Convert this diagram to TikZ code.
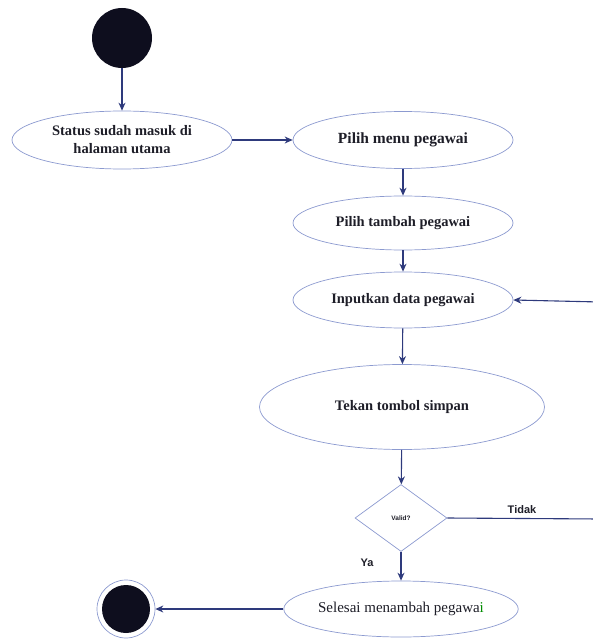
\documentclass[tikz,border=0pt]{standalone}
\usepackage{fontspec}
\setmainfont{Liberation Serif}
\setsansfont{Liberation Sans}
\usetikzlibrary{shapes.geometric,arrows.meta}
\definecolor{edgeblue}{HTML}{8C9AD0}
\definecolor{flow}{HTML}{2E3A7C}
\definecolor{ink}{HTML}{1E1E28}
\definecolor{dot}{HTML}{0E0E1E}
\tikzset{
  activity/.style={ellipse, draw=edgeblue, line width=0.7pt, fill=white,
    inner sep=0pt, text=ink, font=\fontsize{14.5}{18}\selectfont\bfseries, align=center},
  decision/.style={diamond, draw=edgeblue, line width=0.7pt, fill=white,
    inner sep=0pt, aspect=1.37, minimum width=92pt, minimum height=67pt,
    text=ink, font=\sffamily\bfseries\fontsize{6.5}{8}\selectfont},
  flowarrow/.style={draw=flow, line width=1.1pt, -{Stealth[length=8pt,width=7pt]}},
  flowline/.style={draw=flow, line width=1.1pt},
  guard/.style={text=ink, font=\sffamily\bfseries\fontsize{11}{13}\selectfont}
}
\begin{document}
\begin{tikzpicture}[x=1pt,y=-1pt]
  \useasboundingbox (0,0) rectangle (593,639);
  \clip (0,0) rectangle (593,639);

  % start and end markers
  \node[circle, fill=dot, minimum size=60pt, inner sep=0pt] (start) at (122,38) {};
  \node[circle, draw=edgeblue, line width=0.7pt, fill=white, minimum size=58pt, inner sep=0pt] (finish) at (126,609) {};
  \node[circle, fill=dot, minimum size=48pt, inner sep=0pt] (finishdot) at (126,609) {};

  % activities
  \node[activity, minimum width=220pt, minimum height=58pt] (status) at (122,140)
    {Status sudah masuk di\\halaman utama};
  \node[activity, minimum width=220pt, minimum height=57pt, font=\fontsize{15.5}{18}\selectfont\bfseries] (menu) at (403,140) {Pilih menu pegawai};
  \node[activity, minimum width=220pt, minimum height=54pt] (tambah) at (403,223) {Pilih tambah pegawai};
  \node[activity, minimum width=220pt, minimum height=56pt] (input) at (403,300) {Inputkan data pegawai};
  \node[activity, minimum width=285pt, minimum height=85pt] (simpan) at (402,407) {Tekan tombol simpan};
  \node[decision] (valid) at (401,518) {Valid?};
  \node[activity, minimum width=218pt, minimum height=56pt, font=\fontsize{15}{18}\selectfont] (selesai) at (401,609)
    {Selesai menambah pegawa\textcolor{green!55!black}{i}};

  % loop-back route beyond the right edge
  \coordinate (loopdown) at (600,519);
  \coordinate (loopup) at (600,302);

  % connectors
  \draw[flowarrow] (start) -- (status);
  \draw[flowarrow] (status.east) -- (menu.west);
  \draw[flowarrow] (menu) -- (tambah);
  \draw[flowarrow] (tambah) -- (input);
  \draw[flowarrow] (input) -- (simpan);
  \draw[flowarrow] (simpan) -- (valid);
  \draw[flowarrow] (valid) -- (selesai);
  \draw[flowarrow] (selesai.west) -- (finish.east);
  \draw[flowline] (valid.east) -- (loopdown) -- (loopup);
  \draw[flowarrow] (loopup) -- (input.east);

  % guards
  \node[guard] (tidak) at (522,510) {Tidak};
  \node[guard] (ya) at (367,563) {Ya};
\end{tikzpicture}
\end{document}
